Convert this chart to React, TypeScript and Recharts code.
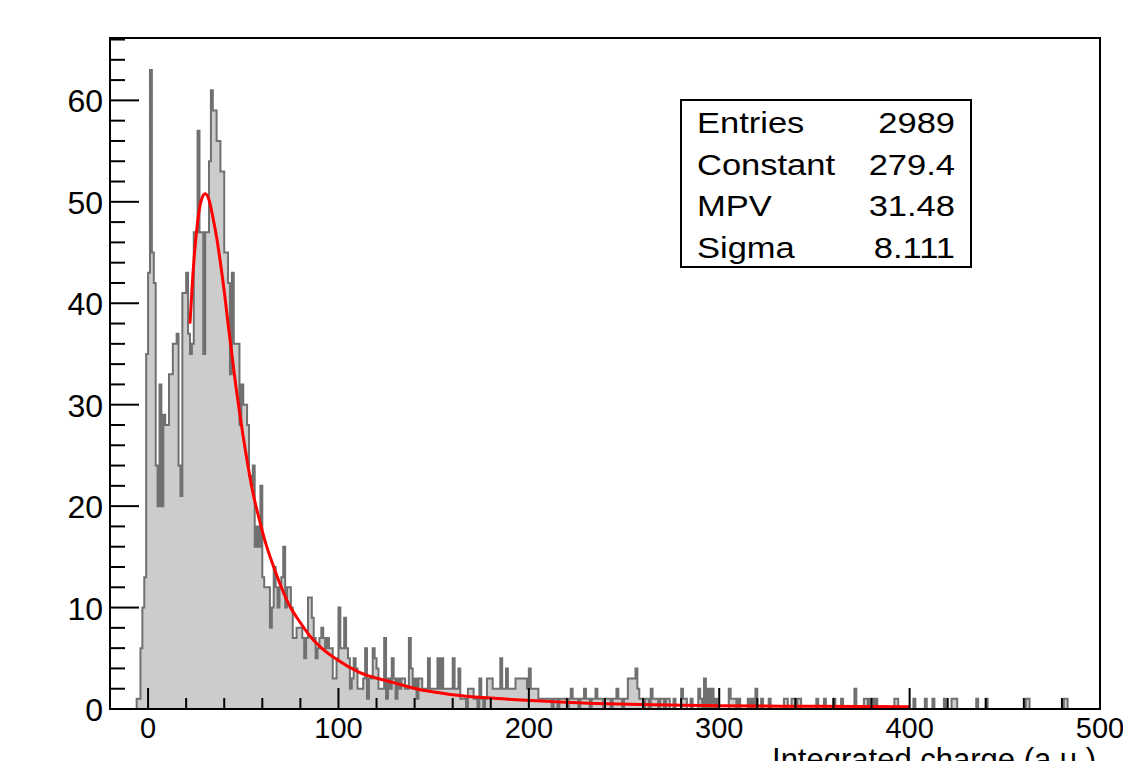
import { Area, ComposedChart, Line, XAxis, YAxis } from "recharts";

// histogram: 1-unit bins from -20 to 500, values given per segment (low edge of first bin)
const binStart = -20;
const binEnd = 500;

const peakStart = -8;
const peakCounts = [
  0, 0, 1, 1, 6, 10, 13, 35,
  43, 63, 45, 42, 24, 20, 32, 20, 29, 28,
  28, 33, 33, 36, 36, 37, 24, 21, 41, 41,
  43, 37, 35, 36, 47, 47, 57, 47, 47, 35,
  47, 47, 54, 61, 59, 59, 56, 56, 53, 53,
  45, 45, 42, 33, 43, 36, 36, 36, 28, 32,
  30, 30, 28, 23, 22, 24, 16, 18, 16, 22,
];

const midStart = 60;
const midCounts = [
  13, 12, 12, 12, 8, 10, 14, 12, 10, 12,
  13, 16, 10, 12, 12, 10, 7, 7, 8, 8,
  8, 7, 5, 7, 11, 11, 9, 7, 5, 6,
  7, 8, 7, 6, 7, 6, 6, 3, 3, 5,
  10, 6, 6, 9, 6, 5, 2, 3, 5, 4,
  2, 2, 2, 3, 6, 1, 3, 3, 6, 5,
  4, 2, 2, 2, 7, 1, 3, 2, 5, 3,
  1, 3, 2, 3, 3, 2, 2, 7, 4, 2,
  3, 1, 3, 3, 2, 2, 2, 5, 2, 2,
  2, 2, 5, 2, 5, 2, 2, 2, 2, 2,
];

const tailStart = 160;
const tailCounts = [
  5, 2, 2, 4, 1, 1, 1, 0, 2, 2,
  2, 1, 1, 0, 3, 1, 0, 1, 3, 3,
  3, 2, 2, 2, 2, 5, 2, 2, 4, 2,
  2, 2, 2, 3, 3, 3, 3, 3, 3, 2,
  4, 2, 2, 2, 2, 1, 1, 1, 1, 1,
  1, 1, 0, 1, 1, 0, 1, 1, 1, 1,
  0, 1, 2, 1, 1, 1, 0, 1, 1, 2,
  1, 1, 0, 1, 1, 2, 1, 1, 1, 0,
  1, 1, 1, 0, 1, 1, 2, 1, 1, 0,
  1, 1, 3, 3, 3, 3, 4, 2, 1, 1,
  0, 1, 1, 0, 2, 1, 1, 1, 0, 1,
  1, 0, 1, 1, 0, 0, 1, 0, 0, 0,
];

const sparseBins = [
  280, 281, 282, 285, 289, 290, 292, 294, 296, 298, 305, 306, 307, 308, 310,
  315, 317, 319, 322, 326, 334, 335, 338, 339, 341, 342, 351, 355, 360, 364,
  371, 376, 377, 379, 380, 382, 392, 393, 402, 408, 412, 418, 422, 423, 424,
  435, 440, 461, 462, 481, 482,
];
const sparseCounts = [
  2, 1, 1, 1, 2, 1, 3, 2, 2, 1, 2, 1, 1, 1, 1,
  1, 1, 2, 1, 1, 1, 1, 1, 1, 1, 1, 1, 1, 1, 1,
  2, 1, 1, 1, 1, 1, 1, 1, 1, 1, 1, 1, 1, 1, 1,
  1, 1, 1, 1, 1, 1,
];

// Landau fit curve
const fitX = [22, 24, 26, 28, 30, 32, 34, 36, 38, 40, 42, 44, 46, 48, 50, 52, 55, 58, 62, 66, 70, 74, 80, 85, 90, 99, 111, 129, 143, 153, 160, 186, 222, 265, 300, 350, 400];
const fitY = [38, 44, 48, 50.2, 50.8, 50.2, 48.5, 46.5, 44, 41.2, 38, 35, 32, 29.3, 26.8, 24.5, 21.4, 19, 16.2, 14, 12, 10.3, 8.5, 7.2, 6.2, 4.9, 3.6, 2.6, 1.9, 1.6, 1.4, 1.0, 0.65, 0.42, 0.33, 0.26, 0.22];

const xTicks = [-20, 0, 20, 40, 60, 80, 100, 120, 140, 160, 180, 200, 220, 240, 260, 280, 300, 320, 340, 360, 380, 400, 420, 440, 460, 480, 500];
const yTicks = [0, 2, 4, 6, 8, 10, 12, 14, 16, 18, 20, 22, 24, 26, 28, 30, 32, 34, 36, 38, 40, 42, 44, 46, 48, 50, 52, 54, 56, 58, 60, 62, 64, 66];
const yMax = 66.15;

const statNames = ["Entries", "Constant", "MPV", "Sigma"];
const statValues = ["2989", "279.4", "31.48", "8.111"];
const xTitle = "Integrated charge (a.u.)";

const counts = new Map<number, number>();
peakCounts.forEach((c, i) => counts.set(peakStart + i, c));
midCounts.forEach((c, i) => counts.set(midStart + i, c));
tailCounts.forEach((c, i) => counts.set(tailStart + i, c));
sparseBins.forEach((b, i) => counts.set(b, sparseCounts[i]));

const histData: { x: number; count: number }[] = [];
for (let b = binStart; b < binEnd; b++) histData.push({ x: b, count: counts.get(b) ?? 0 });
histData.push({ x: binEnd, count: 0 });

const fitData = fitX.map((x, i) => ({ x, fit: fitY[i] }));

const W = 1123;
const H = 800;
const LEFT = 110;
const TOP = 38;
const RIGHT = 1100;
const BOTTOM = 709;
const YAXIS_W = 80;
const XAXIS_H = 60;
const FONT = "'Liberation Sans', Arial, Helvetica, sans-serif";

function XTick(props: any) {
  const { x, y, payload } = props;
  const major = payload.value % 100 === 0;
  return (
    <g>
      <line x1={x} x2={x} y1={y} y2={y - (major ? 21 : 11)} stroke="#000" strokeWidth={2} />
      {major && (
        <text x={x} y={y + 29} textAnchor="middle" fontSize={29} fontFamily={FONT} fill="#000">
          {payload.value}
        </text>
      )}
    </g>
  );
}

function YTick(props: any) {
  const { x, y, payload } = props;
  const major = payload.value % 10 === 0;
  return (
    <g>
      <line x1={x} x2={x + (major ? 29 : 15)} y1={y} y2={y} stroke="#000" strokeWidth={2} />
      {major && (
        <text x={x - 7} y={y + 12} textAnchor="end" fontSize={32} fontFamily={FONT} fill="#000">
          {payload.value}
        </text>
      )}
    </g>
  );
}

export default function App() {
  return (
    <div style={{ position: "absolute", left: 0, top: 0, width: W, height: 761, overflow: "hidden", background: "#fff" }}>
      <ComposedChart
        width={W}
        height={H}
        margin={{ top: TOP, right: W - RIGHT, bottom: H - BOTTOM - XAXIS_H, left: LEFT - YAXIS_W }}
      >
        <XAxis
          dataKey="x"
          type="number"
          domain={[binStart, binEnd]}
          ticks={xTicks}
          interval={0}
          height={XAXIS_H}
          tickSize={0}
          tickMargin={0}
          tickLine={false}
          axisLine={false}
          tick={XTick}
          allowDataOverflow
        />
        <YAxis
          type="number"
          domain={[0, yMax]}
          ticks={yTicks}
          interval={0}
          width={YAXIS_W}
          tickSize={0}
          tickMargin={0}
          tickLine={false}
          axisLine={false}
          tick={YTick}
          allowDataOverflow
        />
        <Area
          data={histData}
          dataKey="count"
          type="stepAfter"
          fill="#cccccc"
          fillOpacity={1}
          stroke="#707070"
          strokeWidth={2}
          isAnimationActive={false}
          dot={false}
          activeDot={false}
        />
        <Line
          data={fitData}
          dataKey="fit"
          type="monotone"
          stroke="#ff0000"
          strokeWidth={3}
          dot={false}
          activeDot={false}
          isAnimationActive={false}
        />
      </ComposedChart>
      <svg width={W} height={H} style={{ position: "absolute", left: 0, top: 0, pointerEvents: "none" }}>
        <rect x={LEFT} y={TOP} width={RIGHT - LEFT} height={BOTTOM - TOP} fill="none" stroke="#000" strokeWidth={2} />
        <rect x={681} y={100} width={290} height={167} fill="#fff" stroke="#000" strokeWidth={2} />
        {statNames.map((n, i) => (
          <g key={n} fontSize={29} fontFamily={FONT} fill="#000">
            <text transform={`translate(697, ${133 + i * 41.7}) scale(1.19, 1)`}>{n}</text>
            <text transform={`translate(955, ${133 + i * 41.7}) scale(1.19, 1)`} textAnchor="end">
              {statValues[i]}
            </text>
          </g>
        ))}
        <text x={1096} y={770} textAnchor="end" fontSize={31} fontFamily={FONT} fill="#000">
          {xTitle}
        </text>
      </svg>
    </div>
  );
}
